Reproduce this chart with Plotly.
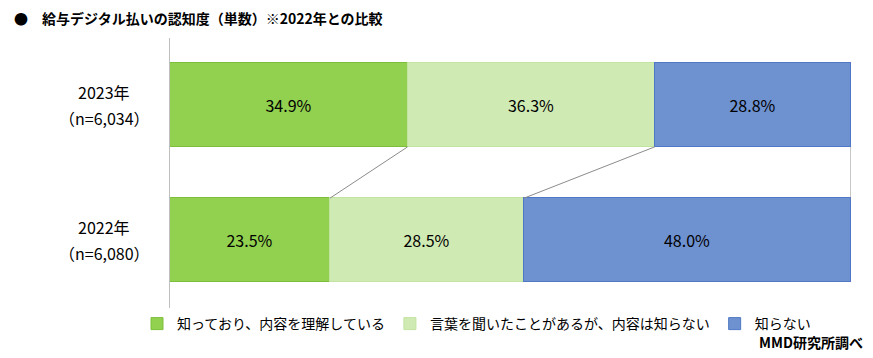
import plotly.graph_objects as go

years = ["2023年", "2022年"]
samples = ["（n=6,034）", "（n=6,080）"]
ypos = [1, 0]
series_names = ["知っており、内容を理解している", "言葉を聞いたことがあるが、内容は知らない", "知らない"]
values_2023 = [34.9, 36.3, 28.8]
values_2022 = [23.5, 28.5, 48.0]
colors = ["#92D050", "#D0EAB3", "#6E91D0"]
edge_colors = ["#7DBF3A", "#C3E3A0", "#4F78C4"]

FONT = "Noto Sans CJK JP, Meiryo, sans-serif"
BW = 0.62
PW = 681  # plot width px
PH = 272  # plot height px

fig = go.Figure()
for i, name in enumerate(series_names):
    vals = [values_2023[i], values_2022[i]]
    fig.add_trace(go.Bar(
        y=ypos, x=vals, orientation="h", name=name, width=BW,
        marker=dict(color=colors[i], line=dict(color=edge_colors[i], width=1)),
        text=[f"{v:.1f}%" for v in vals], textposition="inside",
        insidetextanchor="middle",
        textfont=dict(color="#000000", size=16, family=FONT),
        hoverinfo="skip",
    ))

# connector lines between cumulative boundaries
cum23, cum22 = 0, 0
for i in range(len(series_names)):
    cum23 += values_2023[i]
    cum22 += values_2022[i]
    fig.add_trace(go.Scatter(
        x=[cum23, cum22], y=[ypos[0] - BW / 2, ypos[1] + BW / 2],
        mode="lines", line=dict(color="#8C8C8C", width=1),
        showlegend=False, hoverinfo="skip", cliponaxis=False,
    ))

annotations = []
for y, yr, n in zip(ypos, years, samples):
    for txt, shift in ((yr, 13), (n, -13)):
        annotations.append(dict(
            x=-66 / PW, xref="paper", y=y, yref="y", yshift=shift, text=txt,
            showarrow=False, xanchor="center", yanchor="middle", align="center",
            font=dict(size=16, color="#000000", family=FONT),
        ))
annotations.append(dict(
    x=-158 / PW, xref="paper", xanchor="left", y=1 + 20 / PH, yref="paper",
    yanchor="middle",
    text="<b>●　給与デジタル払いの認知度（単数）※2022年との比較</b>",
    showarrow=False, font=dict(size=14, color="#000000", family=FONT),
))
annotations.append(dict(
    x=1 + 14 / PW, xref="paper", xanchor="right", y=-32 / PH, yref="paper",
    yanchor="middle", text="<b>MMD研究所調べ</b>", showarrow=False,
    font=dict(size=14, color="#000000", family=FONT),
))

fig.update_layout(
    width=865, height=350,
    margin=dict(l=162, r=22, t=30, b=48),
    barmode="stack", bargap=0,
    plot_bgcolor="white", paper_bgcolor="white",
    showlegend=True,
    legend=dict(orientation="h", x=-33 / PW, xanchor="left", y=-14 / PH, yanchor="middle",
                font=dict(size=14, color="#000000", family=FONT),
                traceorder="normal", itemwidth=30),
    xaxis=dict(range=[0, 100], visible=False, fixedrange=True),
    yaxis=dict(range=[-0.519, 1.496], showticklabels=False, showgrid=False,
               zeroline=False, showline=True, linecolor="#BFBFBF", linewidth=1,
               ticks=""),
    annotations=annotations,
    font=dict(family=FONT),
)

fig.write_html("out.html")
